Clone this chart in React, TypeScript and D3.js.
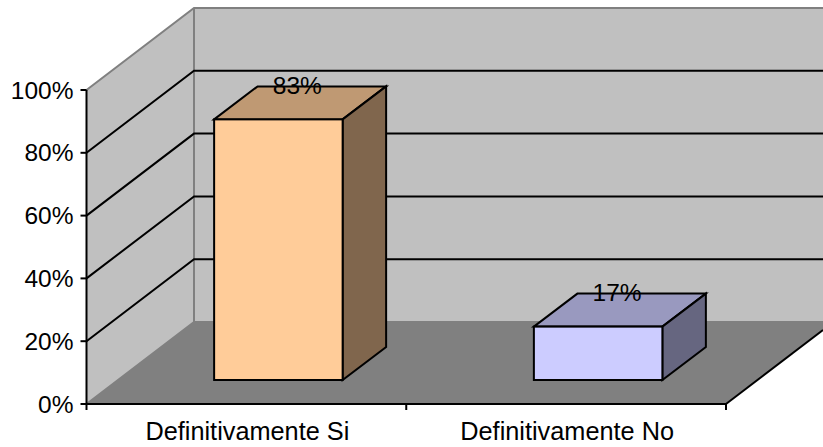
import React from "react";
import * as d3 from "d3";

const categories = ["Definitivamente Si", "Definitivamente No"];
const values = [0.83, 0.17];
const valueLabels = ["83%", "17%"];
const yTicks = [0, 0.2, 0.4, 0.6, 0.8, 1];
const frontColors = ["#FFCC99", "#CCCCFF"];
const topColors = ["#BF9973", "#9999BF"];
const sideColors = ["#80664D", "#666680"];

const W = 823, H = 447;
const x0 = 86.5, x1 = 726, yB = 404, yT = 90;
const wallDx = 107.5, wallDy = -82;
const barDx = 43.5, barDy = -33;
const barOffX = 32, barOffY = -24;
const barW = 128.5;

const x = d3.scaleBand<string>().domain(categories).range([x0, x1]);
const y = d3.scaleLinear().domain([0, 1]).range([yB, yT]);
const pts = (a: [number, number][]) => a.map((p) => p.join(",")).join(" ");
const font = "'Liberation Sans', Arial, sans-serif";

export default function App() {
  const floorRightY = yB + (W - x1) * (wallDy / wallDx);
  return (
    <svg width={W} height={H} style={{ position: "absolute", left: 0, top: 0, background: "#fff" }} fontFamily={font}>
      {/* walls */}
      <polygon points={pts([[x0, yB], [x0, y(1)], [x0 + wallDx, y(1) + wallDy], [x0 + wallDx, yB + wallDy]])} fill="#C0C0C0" />
      <rect x={x0 + wallDx} y={y(1) + wallDy} width={W - x0 - wallDx} height={yB - yT} fill="#C0C0C0" />
      {/* floor */}
      <polygon points={pts([[x0, yB], [x0 + wallDx, yB + wallDy], [W, yB + wallDy], [W, floorRightY], [x1, yB]])} fill="#808080" />
      {/* wall edges */}
      <path
        d={`M${x0},${y(1)}L${x0 + wallDx},${y(1) + wallDy}L${W},${y(1) + wallDy}M${x0 + wallDx},${y(1) + wallDy}V${yB + wallDy}L${x0},${yB}M${x0 + wallDx},${yB + wallDy}H${W}`}
        fill="none" stroke="#808080" strokeWidth={2}
      />
      {/* gridlines */}
      {yTicks.filter((t) => t > 0 && t < 1).map((t) => (
        <path key={t} d={`M${x0},${y(t)}L${x0 + wallDx},${y(t) + wallDy}H${W}`} fill="none" stroke="#000" strokeWidth={2} />
      ))}
      {/* floor outer edge */}
      <line x1={x1} y1={yB} x2={W} y2={floorRightY} stroke="#000" strokeWidth={2} />
      {/* bars */}
      {categories.map((c, i) => {
        const cx = (x(c) as number) + x.bandwidth() / 2 + barOffX;
        const l = cx - barW / 2, r = cx + barW / 2;
        const b = yB + barOffY;
        const t = b - (yB - y(values[i]));
        return (
          <g key={c} stroke="#000" strokeWidth={2} strokeLinejoin="miter">
            <polygon points={pts([[l, t], [l + barDx, t + barDy], [r + barDx, t + barDy], [r, t]])} fill={topColors[i]} />
            <polygon points={pts([[r, t], [r + barDx, t + barDy], [r + barDx, b + barDy], [r, b]])} fill={sideColors[i]} />
            <rect x={l} y={t} width={barW} height={b - t} fill={frontColors[i]} />
            <text x={cx + 19} y={t - 25.5} textAnchor="middle" fontSize={24.5} fill="#000" stroke="none">{valueLabels[i]}</text>
          </g>
        );
      })}
      {/* axes */}
      <path d={`M${x0},${yT}V${yB}H${x1}`} fill="none" stroke="#000" strokeWidth={2} />
      {yTicks.map((t) => (
        <g key={t}>
          <line x1={x0 - 6} x2={x0} y1={y(t)} y2={y(t)} stroke="#000" strokeWidth={2} />
          <text x={73.5} y={y(t) + 8.5} textAnchor="end" fontSize={24.5} fill="#000">{d3.format(".0%")(t)}</text>
        </g>
      ))}
      {[x0, x0 + x.step(), x1].map((v) => (
        <line key={v} x1={v} x2={v} y1={yB} y2={yB + 6} stroke="#000" strokeWidth={2} />
      ))}
      {categories.map((c) => (
        <text key={c} x={(x(c) as number) + x.bandwidth() / 2 + 1} y={440} textAnchor="middle" fontSize={25.3} fill="#000">{c}</text>
      ))}
    </svg>
  );
}
